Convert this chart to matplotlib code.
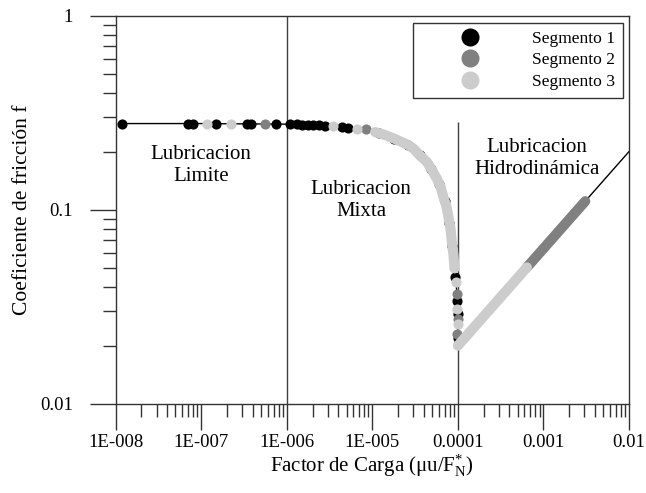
import numpy as np
import matplotlib
matplotlib.use('Agg')
import matplotlib.pyplot as plt
from matplotlib.lines import Line2D
from matplotlib.ticker import FixedLocator, LogLocator, NullFormatter

plt.rcParams['font.family'] = ['Liberation Serif', 'DejaVu Serif']
plt.rcParams['mathtext.fontset'] = 'custom'
plt.rcParams['mathtext.rm'] = 'Liberation Serif'
plt.rcParams['mathtext.it'] = 'Liberation Serif:italic'

# --- data (x = load factor, f = friction coefficient) ---
# Segment 1 (black)
seg1_x = [1.19e-8, 6.95e-8, 8.1e-8, 1.49e-7, 3.4e-7, 3.8e-7, 7.4e-7,
          1.09e-6, 1.3e-6, 1.5e-6, 1.75e-6, 2.03e-6, 2.4e-6, 2.8e-6,
          4.4e-6, 5.25e-6, 1.2e-5, 1.8e-5, 2.6e-5, 3.6e-5, 4.8e-5,
          6.0e-5, 7.0e-5, 7.9e-5, 8.6e-5, 9.26e-5, 9.73e-5, 9.9e-5, 1.0e-4]
seg1_f = [0.279, 0.279, 0.279, 0.279, 0.279, 0.279, 0.279,
          0.277, 0.276, 0.275, 0.275, 0.274, 0.273, 0.272,
          0.268, 0.266, 0.249, 0.233, 0.217, 0.191, 0.163,
          0.136, 0.111, 0.086, 0.065, 0.045, 0.034, 0.029, 0.022]

# Segment 2 (dark grey)
seg2_x = [5.6e-7, 8.45e-6, 9.73e-5, 9.95e-5, 9.8e-5]
seg2_f = [0.279, 0.261, 0.0369, 0.0274, 0.0229]
seg2_band_x = [6.4e-4, 3.08e-3]
seg2_band_f = [0.0506, 0.111]

# Segment 3 (light grey)
seg3_x = [1.16e-7, 2.21e-7, 3.45e-6, 6.7e-6, 9.55e-5, 9.89e-5, 9.97e-5]
seg3_f = [0.279, 0.279, 0.271, 0.263, 0.0423, 0.0309, 0.0258]
seg3_band_x = [1.08e-5, 1.35e-5, 1.69e-5, 2.11e-5, 2.64e-5, 3.03e-5, 3.6e-5,
               4.34e-5, 5.0e-5, 5.68e-5, 6.3e-5, 6.79e-5, 7.3e-5, 7.76e-5,
               8.2e-5, 8.51e-5, 8.87e-5, 9.12e-5]
seg3_band_f = [0.252, 0.245, 0.236, 0.226, 0.216, 0.207, 0.191,
               0.177, 0.160, 0.145, 0.131, 0.116, 0.1055, 0.092,
               0.080, 0.068, 0.059, 0.050]
seg3_hydro_x = [1.0e-4, 6.4e-4]
seg3_hydro_f = [0.020, 0.0506]

# Stribeck reference curve (thin black line)
curve_x = [1.19e-8, 1e-7, 1e-6, 3e-6, 6.7e-6, 1.08e-5, 1.69e-5, 2.64e-5,
           3.6e-5, 4.34e-5, 5.68e-5, 6.79e-5, 7.76e-5, 8.51e-5, 9.12e-5,
           9.55e-5, 9.89e-5, 1.0e-4, 1.0e-2]
curve_f = [0.279, 0.279, 0.277, 0.272, 0.263, 0.252, 0.236, 0.216,
           0.191, 0.177, 0.145, 0.116, 0.092, 0.068, 0.050,
           0.0423, 0.0309, 0.020, 0.200]

regime_x = [1e-6, 1e-4]
regime_top = [1.0, 0.283]

xtick_vals = [1e-8, 1e-7, 1e-6, 1e-5, 1e-4, 1e-3, 1e-2]
xtick_labels = ['1E-008', '1E-007', '1E-006', '1E-005', '0.0001', '0.001', '0.01']
ytick_vals = [0.01, 0.1, 1]
ytick_labels = ['0.01', '0.1', '1']

c1, c2, c3 = 'black', '#808080', '#cccccc'
ms = 7.3
axc = '#333333'

fig = plt.figure(figsize=(6.46, 4.93), dpi=100)
ax = fig.add_axes([115.7 / 646, 1 - 404 / 493, 513.3 / 646, 388 / 493])
ax.set_xscale('log')
ax.set_yscale('log')

# regime boundaries
ax.vlines(regime_x, 0.01, regime_top, color='#404040', lw=1, zorder=1)

ax.plot(curve_x, curve_f, color='black', lw=1, zorder=2)

ax.plot(seg1_x, seg1_f, 'o', color=c1, ms=ms, mew=0, zorder=3)

ax.plot(seg2_x, seg2_f, 'o', color=c2, ms=ms, mew=0, zorder=4)
ax.plot(seg2_band_x, seg2_band_f, '-', color=c2, lw=ms, solid_capstyle='round', zorder=4)

ax.plot(seg3_x, seg3_f, 'o', color=c3, ms=ms, mew=0, zorder=5)
ax.plot(seg3_band_x, seg3_band_f, '-', color=c3, lw=ms, solid_capstyle='round',
        solid_joinstyle='round', zorder=5)
ax.plot(seg3_hydro_x, seg3_hydro_f, '-', color=c3, lw=ms, solid_capstyle='round', zorder=5)

ax.set_xlim(1e-8, 1e-2)
ax.set_ylim(0.01, 1)

ax.xaxis.set_major_locator(FixedLocator(xtick_vals))
ax.set_xticklabels(xtick_labels)
ax.yaxis.set_major_locator(FixedLocator(ytick_vals))
ax.set_yticklabels(ytick_labels)
ax.xaxis.set_minor_locator(LogLocator(base=10, subs=np.arange(2, 10), numticks=20))
ax.yaxis.set_minor_locator(LogLocator(base=10, subs=np.arange(2, 10), numticks=20))
ax.xaxis.set_minor_formatter(NullFormatter())
ax.yaxis.set_minor_formatter(NullFormatter())

ax.tick_params(which='major', direction='out', length=18.7, width=1, color=axc,
               labelsize=13.5)
ax.tick_params(which='minor', direction='out', length=9.4, width=1, color=axc)
ax.tick_params(axis='y', which='major', pad=12)
ax.tick_params(axis='x', which='major', pad=3)
for sp in ax.spines.values():
    sp.set_color(axc)
    sp.set_linewidth(1)

ax.set_xlabel(r'Factor de Carga (μu/F$_{\mathrm{N}}^{*}$)', fontsize=15, labelpad=1)
ax.set_ylabel('Coeficiente de fricción f', fontsize=15.5, labelpad=6)

ax.text(1.0e-7, 0.169, 'Lubricacion\nLimite', ha='center', va='center', fontsize=15)
ax.text(7.4e-6, 0.112, 'Lubricacion\nMixta', ha='center', va='center', fontsize=15)
ax.text(8.4e-4, 0.185, 'Lubricacion\nHidrodinámica', ha='center', va='center', fontsize=15)

handles = [Line2D([], [], ls='none', marker='o', ms=13, color=c, mew=0) for c in (c1, c2, c3)]
leg = ax.legend(handles, ['Segmento 1', 'Segmento 2', 'Segmento 3'],
                loc='upper right', bbox_to_anchor=(0.9877, 0.9827), borderaxespad=0,
                fontsize=12.6, frameon=True, fancybox=False, framealpha=1,
                edgecolor=axc, borderpad=0.45, handlelength=5.6, handletextpad=0.75,
                labelspacing=0.3)
leg.get_frame().set_linewidth(1)

fig.savefig('out.png', dpi=100)
